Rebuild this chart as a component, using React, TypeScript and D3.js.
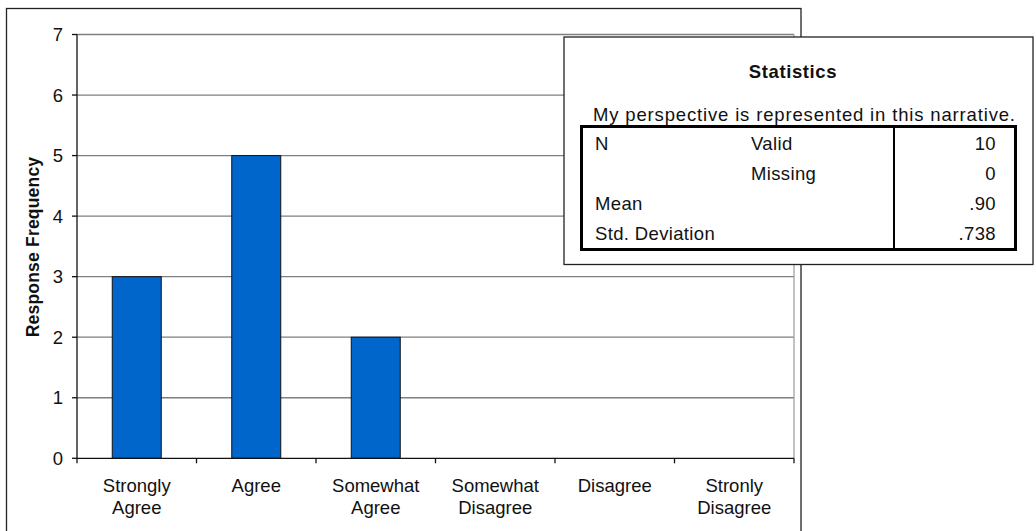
import React from "react";
import * as d3 from "d3";

const categories = [
  ["Strongly", "Agree"],
  ["Agree"],
  ["Somewhat", "Agree"],
  ["Somewhat", "Disagree"],
  ["Disagree"],
  ["Stronly", "Disagree"],
];
const frequencies = [3, 5, 2, 0, 0, 0];
const yTicks = [0, 1, 2, 3, 4, 5, 6, 7];

const statsTitle = "Statistics";
const statsSubtitle = "My perspective is represented in this narrative.";
const statsRows = [
  { label: "N", sub: "Valid", value: "10" },
  { label: "", sub: "Missing", value: "0" },
  { label: "Mean", sub: "", value: ".90" },
  { label: "Std. Deviation", sub: "", value: ".738" },
];

const FONT = "'Liberation Sans', Arial, sans-serif";

export default function App() {
  const W = 1036;
  const H = 531;
  const left = 77;
  const right = 794;
  const top = 34.5;
  const bottom = 458.3;

  const x = d3
    .scaleBand<number>()
    .domain(d3.range(categories.length))
    .range([left, right])
    .paddingInner(0.59)
    .paddingOuter(0.295);
  const band = d3.scaleBand<number>().domain(d3.range(categories.length)).range([left, right]);
  const y = d3.scaleLinear().domain([0, 7]).range([bottom, top]);

  const boundaries = d3.range(categories.length + 1).map((i) => left + i * band.step());

  return (
    <svg
      width={W}
      height={H}
      style={{ position: "absolute", left: 0, top: 0, background: "#fff" }}
      fontFamily={FONT}
    >
      <rect x={0} y={0} width={W} height={H} fill="#fff" />
      {/* chart frame */}
      <rect x={6.5} y={8.5} width={794.5} height={560} fill="none" stroke="#222" strokeWidth={1.3} />

      {/* gridlines */}
      {yTicks.slice(1).map((t) => (
        <line key={t} x1={left} x2={right} y1={y(t)} y2={y(t)} stroke="#7f7f7f" strokeWidth={1.3} />
      ))}
      <line x1={right} x2={right} y1={top} y2={bottom} stroke="#9a9a9a" strokeWidth={1.2} />

      {/* bars */}
      {frequencies.map((v, i) =>
        v > 0 ? (
          <rect
            key={i}
            x={x(i)}
            y={y(v)}
            width={x.bandwidth()}
            height={y(0) - y(v)}
            fill="#0066CC"
            stroke="#111"
            strokeWidth={1}
          />
        ) : null
      )}

      {/* y axis */}
      <line x1={left} x2={left} y1={top} y2={bottom} stroke="#111" strokeWidth={1.3} />
      {yTicks.map((t) => (
        <g key={t}>
          <line x1={left - 5} x2={left} y1={y(t)} y2={y(t)} stroke="#111" strokeWidth={1.3} />
          <text
            x={63}
            y={y(t)}
            dy="0.36em"
            textAnchor="end"
            fontSize={18.5}
            fill="#111"
          >
            {t}
          </text>
        </g>
      ))}
      <text
        transform={`translate(38.5, 247) rotate(-90)`}
        textAnchor="middle"
        fontSize={17.5}
        fontWeight="bold"
        letterSpacing={0.2}
        fill="#111"
      >
        Response Frequency
      </text>

      {/* x axis */}
      <line x1={left} x2={right} y1={bottom} y2={bottom} stroke="#111" strokeWidth={1.3} />
      {boundaries.map((bx, i) => (
        <line key={i} x1={bx} x2={bx} y1={bottom} y2={bottom + 5} stroke="#111" strokeWidth={1.3} />
      ))}
      {categories.map((lines, i) => (
        <text
          key={i}
          x={(band(i) as number) + band.bandwidth() / 2}
          y={491.5}
          textAnchor="middle"
          fontSize={18.5}
          fill="#111"
        >
          {lines.map((l, j) => (
            <tspan key={j} x={(band(i) as number) + band.bandwidth() / 2} dy={j === 0 ? 0 : 22.5}>
              {l}
            </tspan>
          ))}
        </text>
      ))}

      {/* statistics table */}
      <rect x={564} y={37} width={469} height={227.5} fill="#fff" stroke="#222" strokeWidth={1.3} />
      <text x={793} y={77.5} textAnchor="middle" fontSize={18.5} fontWeight="bold" letterSpacing={0.6} fill="#111">
        {statsTitle}
      </text>
      <text x={593} y={120.5} fontSize={18.5} fill="#111" textLength={422} lengthAdjust="spacing">
        {statsSubtitle}
      </text>
      <rect x={581.5} y={126.5} width={434} height={123} fill="none" stroke="#000" strokeWidth={3} />
      <line x1={894} x2={894} y1={126.5} y2={249.5} stroke="#000" strokeWidth={2} />
      {statsRows.map((r, i) => {
        const by = 149.5 + i * 30.3;
        return (
          <g key={i} fontSize={18.5} letterSpacing={0.35} fill="#111">
            {r.label && <text x={595} y={by}>{r.label}</text>}
            {r.sub && <text x={751} y={by}>{r.sub}</text>}
            <text x={996} y={by} textAnchor="end">{r.value}</text>
          </g>
        );
      })}
    </svg>
  );
}
